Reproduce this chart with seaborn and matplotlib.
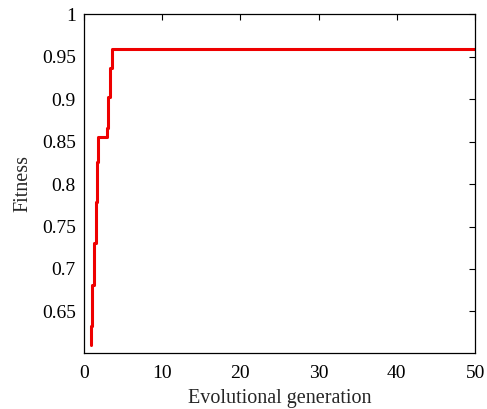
import matplotlib
matplotlib.use("Agg")
import matplotlib.pyplot as plt
import seaborn as sns
import pandas as pd

# best fitness per evolutional generation
generation = [0.85, 0.85, 1.05, 1.05, 1.3, 1.3, 1.5, 1.5, 1.62, 1.62, 1.82, 1.82,
              2.9, 2.9, 3.1, 3.1, 3.33, 3.33, 3.62, 3.62, 3.9, 50]
fitness = [0.610, 0.633, 0.633, 0.681, 0.681, 0.731, 0.731, 0.779, 0.779, 0.826, 0.826, 0.855,
           0.855, 0.866, 0.866, 0.902, 0.902, 0.937, 0.937, 0.959, 0.959, 0.959]

x_ticks = [0, 10, 20, 30, 40, 50]
y_ticks = [0.65, 0.7, 0.75, 0.8, 0.85, 0.9, 0.95, 1]

sns.set_style("white")
plt.rcParams["font.family"] = ["Liberation Serif", "DejaVu Serif"]

df = pd.DataFrame({"generation": generation, "fitness": fitness})

fig = plt.figure(figsize=(4.87, 4.09), dpi=100)
ax = fig.add_axes([0.1725, 0.137, 0.803, 0.828])
sns.lineplot(data=df, x="generation", y="fitness", sort=False, estimator=None,
             color="#ee0000", linewidth=2.2, ax=ax)

ax.set_xlim(0, 50)
ax.set_ylim(0.601, 1)
ax.set_xticks(x_ticks)
ax.set_xticklabels([str(t) for t in x_ticks])
ax.set_yticks(y_ticks)
ax.set_yticklabels(["0.65", "0.7", "0.75", "0.8", "0.85", "0.9", "0.95", "1"])
ax.tick_params(direction="in", length=4, width=0.8, labelsize=14, colors="black",
               top=True, right=True)
ax.tick_params(axis="x", pad=9)
ax.tick_params(axis="y", pad=6)
for s in ax.spines.values():
    s.set_color("black")
    s.set_linewidth(0.9)

ax.set_xlabel("Evolutional generation", fontsize=14.5, labelpad=5)
ax.set_ylabel("Fitness", fontsize=14.5, labelpad=7)

fig.savefig("out.png", dpi=100)
